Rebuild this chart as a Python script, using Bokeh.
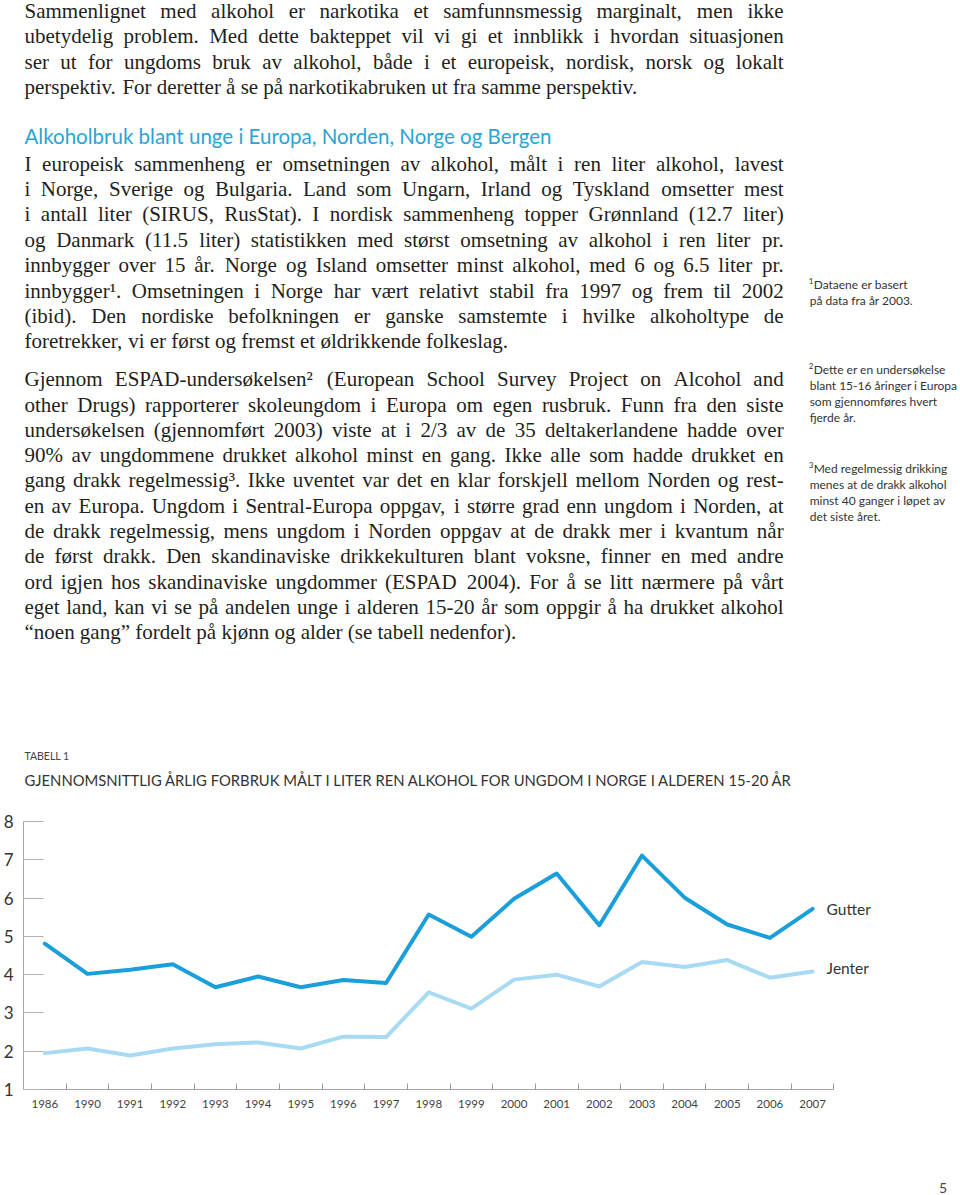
from bokeh.plotting import figure
from bokeh.models import ColumnDataSource, Range1d, FixedTicker, CustomJSTickFormatter, Label
from bokeh.layouts import column
from bokeh.embed import file_html
from bokeh.resources import INLINE
from bokeh.core.properties import value

# ---------------- data ----------------
years = ["1986", "1990", "1991", "1992", "1993", "1994", "1995", "1996", "1997", "1998",
         "1999", "2000", "2001", "2002", "2003", "2004", "2005", "2006", "2007"]
gutter = [4.81, 4.02, 4.13, 4.27, 3.67, 3.95, 3.67, 3.86, 3.78, 5.57,
          4.99, 5.98, 6.64, 5.29, 7.11, 6.01, 5.31, 4.96, 5.72]
jenter = [1.95, 2.07, 1.89, 2.07, 2.18, 2.23, 2.07, 2.38, 2.37, 3.54,
          3.11, 3.87, 4.00, 3.69, 4.33, 4.20, 4.38, 3.92, 4.08]
y_ticks = [1, 2, 3, 4, 5, 6, 7, 8]
series_names = ["Gutter", "Jenter"]

table_label = "TABELL 1"
chart_title = "GJENNOMSNITTLIG ÅRLIG FORBRUK MÅLT I LITER REN ALKOHOL FOR UNGDOM I NORGE I ALDEREN 15-20 ÅR"
heading = "Alkoholbruk blant unge i Europa, Norden, Norge og Bergen"
page_number = "5"

para1 = [
    "Sammenlignet med alkohol er narkotika et samfunnsmessig marginalt, men ikke",
    "ubetydelig problem. Med dette bakteppet vil vi gi et innblikk i hvordan situasjonen",
    "ser ut for ungdoms bruk av alkohol, både i et europeisk, nordisk, norsk og lokalt",
    "perspektiv. For deretter å se på narkotikabruken ut fra samme perspektiv.",
]
para2 = [
    "I europeisk sammenheng er omsetningen av alkohol, målt i ren liter alkohol, lavest",
    "i Norge, Sverige og Bulgaria. Land som Ungarn, Irland og Tyskland omsetter mest",
    "i antall liter (SIRUS, RusStat). I nordisk sammenheng topper Grønnland (12.7 liter)",
    "og Danmark (11.5 liter) statistikken med størst omsetning av alkohol i ren liter pr.",
    "innbygger over 15 år. Norge og Island omsetter minst alkohol, med 6 og 6.5 liter pr.",
    "innbygger¹. Omsetningen i Norge har vært relativt stabil fra 1997 og frem til 2002",
    "(ibid). Den nordiske befolkningen er ganske samstemte i hvilke alkoholtype de",
    "foretrekker, vi er først og fremst et øldrikkende folkeslag.",
]
para3 = [
    "Gjennom ESPAD-undersøkelsen² (European School Survey Project on Alcohol and",
    "other Drugs) rapporterer skoleungdom i Europa om egen rusbruk. Funn fra den siste",
    "undersøkelsen (gjennomført 2003) viste at i 2/3 av de 35 deltakerlandene hadde over",
    "90% av ungdommene drukket alkohol minst en gang. Ikke alle som hadde drukket en",
    "gang drakk regelmessig³. Ikke uventet var det en klar forskjell mellom Norden og rest-",
    "en av Europa. Ungdom i Sentral-Europa oppgav, i større grad enn ungdom i Norden, at",
    "de drakk regelmessig, mens ungdom i Norden oppgav at de drakk mer i kvantum når",
    "de først drakk. Den skandinaviske drikkekulturen blant voksne, finner en med andre",
    "ord igjen hos skandinaviske ungdommer (ESPAD 2004). For å se litt nærmere på vårt",
    "eget land, kan vi se på andelen unge i alderen 15-20 år som oppgir å ha drukket alkohol",
    "“noen gang” fordelt på kjønn og alder (se tabell nedenfor).",
]
notes = [
    ("1", ["Dataene er basert", "på data fra år 2003."]),
    ("2", ["Dette er en undersøkelse", "blant 15-16 åringer i Europa", "som gjennomføres hvert", "fjerde år."]),
    ("3", ["Med regelmessig drikking", "menes at de drakk alkohol", "minst 40 ganger i løpet av", "det siste året."]),
]

# ---------------- text metrics (Liberation Serif == Times metrics) ----------------
TW = {' ': 250, '!': 333, '"': 408, '%': 833, '(': 333, ')': 333, ',': 250, '-': 333, '.': 250,
      '/': 278, ':': 278, ';': 278, '?': 444, '“': 444, '”': 444, '¹': 300, '²': 300, '³': 300,
      'A': 722, 'B': 667, 'C': 667, 'D': 722, 'E': 611, 'F': 556, 'G': 722, 'H': 722, 'I': 333,
      'J': 389, 'K': 722, 'L': 611, 'M': 889, 'N': 722, 'O': 722, 'P': 556, 'Q': 722, 'R': 667,
      'S': 556, 'T': 611, 'U': 722, 'V': 722, 'W': 944, 'X': 722, 'Y': 722, 'Z': 611,
      'a': 444, 'b': 500, 'c': 444, 'd': 500, 'e': 444, 'f': 333, 'g': 500, 'h': 500, 'i': 278,
      'j': 278, 'k': 500, 'l': 278, 'm': 778, 'n': 500, 'o': 500, 'p': 500, 'q': 500, 'r': 333,
      's': 389, 't': 278, 'u': 500, 'v': 500, 'w': 722, 'x': 500, 'y': 500, 'z': 444,
      'å': 444, 'æ': 667, 'ø': 500, 'Å': 722, 'Æ': 889, 'Ø': 722}
for _d in "0123456789":
    TW[_d] = 500

BODY_SIZE = 21
X0, X1 = 23, 783
SHIFT = 0.3  # renderer places alphabetic baseline ~0.3em lower than asked


def base(y, size):
    return y - SHIFT * size


def wwidth(word, size):
    return sum(TW.get(ch, 500) for ch in word) * size / 1000.0


def layout_para(lines, y0, lh, left, right):
    for k, line in enumerate(lines):
        words = line.split(" ")
        y = base(y0 + k * lh, BODY_SIZE)
        widths = [wwidth(w, BODY_SIZE) for w in words]
        last = (k == len(lines) - 1)
        if last or len(words) < 2:
            gap = 250 * BODY_SIZE / 1000.0
        else:
            gap = max(2.0, (X1 - X0 - sum(widths)) / (len(words) - 1))
        x = X0
        for j, (w, ww) in enumerate(zip(words, widths)):
            if (not last) and j == len(words) - 1 and len(words) > 1:
                right["x"].append(X1); right["y"].append(y); right["text"].append(w)
            else:
                left["x"].append(x); left["y"].append(y); left["text"].append(w)
            x += ww + gap


left = {"x": [], "y": [], "text": []}
right = {"x": [], "y": [], "text": []}
layout_para(para1, 16.8, 25.3, left, right)
layout_para(para2, 169.3, 25.4, left, right)
layout_para(para3, 385.0, 25.3, left, right)

W = 960
BL = 22            # common left border (frame starts at page x 22)
TEXT_H = 800       # page y 0 .. 800
CHART_H = 360      # page y 800 .. 1160
FOOT_H = 35        # page y 1160 .. 1195

serif = value("Liberation Serif")
sans = value("Lato")


def blank(h, top):
    p = figure(width=W, height=h, x_range=Range1d(BL, W), y_range=Range1d(top + h, top),
               x_axis_type=None, y_axis_type=None, toolbar_location=None, output_backend="svg",
               min_border_left=BL, min_border_right=0, min_border_top=0, min_border_bottom=0)
    p.outline_line_color = None
    return p


# ---------------- text block ----------------
t = blank(TEXT_H, 0)
t.text(x="x", y="y", text="text", source=ColumnDataSource(left), text_font=serif,
       text_font_size="21px", text_color="#231f20", text_align="left", text_baseline="alphabetic")
t.text(x="x", y="y", text="text", source=ColumnDataSource(right), text_font=serif,
       text_font_size="21px", text_color="#231f20", text_align="right", text_baseline="alphabetic")

t.text(x=[23], y=[base(141.7, 20.5)], text=[heading], text_font=sans, text_font_size="20.5px",
       text_color="#2aa4d5", text_baseline="alphabetic")

note_y0 = [288, 373, 472]
sx, sy, st = [], [], []
nx, ny, nt = [], [], []
for (num, lines), y0 in zip(notes, note_y0):
    sx.append(808); sy.append(base(y0 - 5, 8)); st.append(num)
    for k, ln in enumerate(lines):
        nx.append(813 if k == 0 else 809); ny.append(base(y0 + 16 * k, 12)); nt.append(ln)
t.text(x=sx, y=sy, text=st, text_font=sans, text_font_size="8px", text_color="#333333",
       text_baseline="alphabetic")
t.text(x=nx, y=ny, text=nt, text_font=sans, text_font_size="12px", text_color="#333333",
       text_baseline="alphabetic")

t.text(x=[23], y=[base(759, 10.5)], text=[table_label], text_font=sans, text_font_size="10.5px",
       text_color="#444444", text_baseline="alphabetic")
t.text(x=[23], y=[base(784.3, 14.8)], text=[chart_title], text_font=sans, text_font_size="14.8px",
       text_color="#333333", text_baseline="alphabetic")

# ---------------- chart ----------------
idx = list(range(len(years)))
px_per_cat = (833.3 - BL) / len(years)
x_start = -0.5
x_end = x_start + (W - BL) / px_per_cat
c = figure(width=W, height=CHART_H, x_range=Range1d(x_start, x_end), y_range=Range1d(1, 8),
           toolbar_location=None, output_backend="svg",
           min_border_left=BL, min_border_right=0, min_border_top=21, min_border_bottom=71)
c.outline_line_color = None
c.xgrid.visible = False
c.ygrid.visible = False

src = ColumnDataSource(dict(x=idx, gutter=gutter, jenter=jenter))
c.line(x="x", y="jenter", source=src, line_color="#a8dbf3", line_width=4, line_join="round",
       line_cap="round")
c.line(x="x", y="gutter", source=src, line_color="#1a9fda", line_width=4, line_join="round",
       line_cap="round")

c.xaxis.ticker = FixedTicker(ticks=idx, minor_ticks=[i + 0.5 for i in idx])
c.xaxis.bounds = (-0.5, len(years) - 0.5)
c.xaxis.formatter = CustomJSTickFormatter(args=dict(labels=years),
                                          code="const i = Math.round(tick); return labels[i] || '';")
c.xaxis.major_tick_in = 0
c.xaxis.major_tick_out = 0
c.xaxis.minor_tick_in = 6
c.xaxis.minor_tick_out = 0
c.xaxis.minor_tick_line_color = "#9a9a9a"
c.xaxis.axis_line_color = "#a6a6a6"
c.xaxis.major_label_standoff = 10
c.xaxis.major_label_text_font = "Lato"
c.xaxis.major_label_text_font_size = "11.5px"
c.xaxis.major_label_text_color = "#444444"

c.yaxis.ticker = FixedTicker(ticks=y_ticks)
c.yaxis.bounds = (1, 8)
c.yaxis.major_tick_in = 20
c.yaxis.major_tick_out = 0
c.yaxis.minor_tick_line_color = None
c.yaxis.major_tick_line_color = "#b0b0b0"
c.yaxis.axis_line_color = "#a6a6a6"
c.yaxis.major_label_standoff = 10
c.yaxis.major_label_text_font = "Lato"
c.yaxis.major_label_text_font_size = "17px"
c.yaxis.major_label_text_color = "#333333"

c.add_layout(Label(x=idx[-1], y=gutter[-1], x_offset=14, y_offset=0, text=series_names[0],
                   text_font="Lato", text_font_size="15.5px", text_color="#333333",
                   text_baseline="middle"))
c.add_layout(Label(x=idx[-1], y=jenter[-1], x_offset=14, y_offset=4, text=series_names[1],
                   text_font="Lato", text_font_size="15.5px", text_color="#333333",
                   text_baseline="middle"))

# ---------------- footer ----------------
f = blank(FOOT_H, 1160)
f.text(x=[942.5], y=[base(1191.5, 14)], text=[page_number], text_font=sans, text_font_size="14px",
       text_color="#444444", text_align="center", text_baseline="alphabetic")

layout = column(t, c, f, spacing=0)
open("out.html", "w").write(file_html(layout, INLINE))
